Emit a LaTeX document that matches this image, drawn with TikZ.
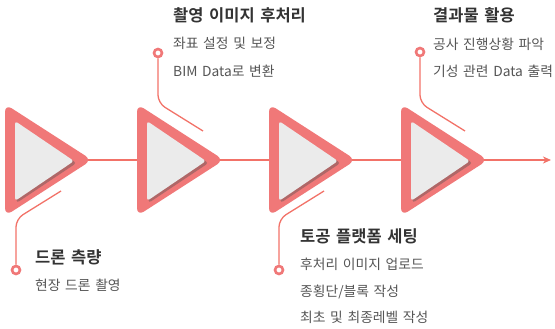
\documentclass[tikz,border=0pt]{standalone}
\usepackage{fontspec}
\setmainfont{Noto Sans CJK KR}[BoldFont={Noto Sans CJK KR Bold},WordSpace=1.5]
\usetikzlibrary{arrows.meta}
\definecolor{tri}{HTML}{F07878}
\definecolor{lin}{HTML}{F27268}
\definecolor{innerc}{HTML}{EBEBEB}
\definecolor{shadec}{HTML}{7A5A5A}
\definecolor{headc}{HTML}{333333}
\definecolor{bodyc}{HTML}{555555}
\tikzset{
  conn/.style={draw=lin, line width=1.3pt, rounded corners=8pt},
  dotring/.style={circle, draw=tri, fill=white, line width=2.6pt, minimum size=8pt, inner sep=0pt},
  headtxt/.style={anchor=base west, inner sep=0pt, text=headc, font=\fontsize{16.5}{19}\selectfont\bfseries},
  bodytxt/.style={anchor=base west, inner sep=0pt, text=bodyc, font=\fontsize{13.8}{16}\selectfont},
}
\begin{document}
\begin{tikzpicture}[x=1pt,y=-1pt]
\useasboundingbox (0,0) rectangle (555,329);
% main line
\coordinate (start) at (88,160);
\coordinate (finish) at (551,160);
\draw[draw=lin, line width=1.3pt, -{Stealth[length=8pt,width=7pt,inset=2.5pt]}] (start) -- (finish);
% triangles
\foreach \x/\n in {6/a,138/b,270/c,402/d}{
  \fill[tri, rounded corners=8pt] (\x-1,160) -- (\x-1,104) -- (\x+86,160) -- (\x-1,216) -- cycle;
  \fill[shadec, opacity=0.55, rounded corners=3pt] (\x+10.5,162) -- (\x+10.5,123.5) -- (\x+70.5,163) -- (\x+10.5,203) -- cycle;
  \fill[innerc, rounded corners=3pt] (\x+9,160) -- (\x+9,121) -- (\x+68,161) -- (\x+9,201) -- cycle;
}
% connectors
\node[dotring] (d1) at (16,270) {};
\coordinate (k1) at (16,219);
\coordinate (e1) at (61,191);
\draw[conn] (d1) -- (k1) -- (e1);

\node[dotring] (d2) at (158,53) {};
\coordinate (k2) at (158,103);
\coordinate (e2) at (203,131);
\draw[conn] (d2) -- (k2) -- (e2);

\node[dotring] (d3) at (279,270) {};
\coordinate (k3) at (279,219);
\coordinate (e3) at (324,191);
\draw[conn] (d3) -- (k3) -- (e3);

\node[dotring] (d4) at (420,52) {};
\coordinate (k4) at (420,103);
\coordinate (e4) at (465,131);
\draw[conn] (d4) -- (k4) -- (e4);

% texts
\node[headtxt] (h1) at (35,263) {드론 측량};
\node[bodytxt] (b11) at (35,290) {현장 드론 촬영};

\node[headtxt] (h2) at (173,22) {촬영 이미지 후처리};
\node[bodytxt] (b21) at (173,49) {좌표 설정 및 보정};
\node[bodytxt] (b22) at (173,77) {BIM Data로 변환};

\node[headtxt] (h3) at (300,242) {토공 플랫폼 세팅};
\node[bodytxt] (b31) at (300,269) {후처리 이미지 업로드};
\node[bodytxt] (b32) at (300,296) {종횡단/블록 작성};
\node[bodytxt] (b33) at (300,322) {최초 및 최종레벨 작성};

\node[headtxt] (h4) at (433,22) {결과물 활용};
\node[bodytxt] (b41) at (433,50) {공사 진행상황 파악};
\node[bodytxt] (b42) at (433,77) {기성 관련 Data 출력};
\end{tikzpicture}
\end{document}
